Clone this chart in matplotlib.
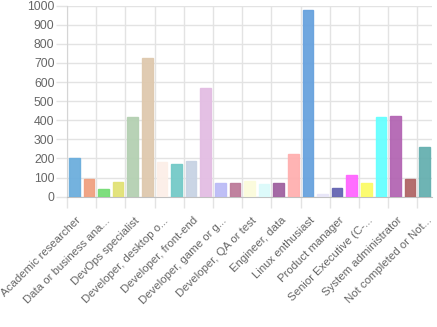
import matplotlib
matplotlib.use("Agg")
import matplotlib.pyplot as plt
from matplotlib.ticker import FixedLocator

# categories (only every other one gets a visible label on the axis)
categories = [
    "Academic researcher", "Blockchain", "Data or business analyst",
    "Data scientist or machine learning specialist", "DevOps specialist",
    "Developer, back-end", "Developer, desktop or enterprise applications",
    "Developer, embedded applications or devices", "Developer, front-end",
    "Developer, full-stack", "Developer, game or graphics", "Developer, mobile",
    "Developer, QA or test", "Educator", "Engineer, data", "Engineering manager",
    "Linux enthusiast", "Marketing or sales professional", "Product manager",
    "Scientist", "Senior Executive (C-Suite, VP, etc.)", "Student",
    "System administrator", "Other", "Not completed or Not applicable",
]
counts = [202, 91, 40, 78, 419, 724, 181, 170, 187, 568, 70, 72, 80, 67, 71,
          224, 979, 13, 46, 113, 71, 418, 421, 91, 259]
bar_colors = [
    "#6caedd", "#f0a080", "#77dd77", "#e2e276", "#b4d0b2", "#dfc9ae",
    "#fcefe8", "#74cac8", "#c8d3e4", "#e3bde3", "#bcbcf6", "#bd7b9a",
    "#fbfbdc", "#dcfafa", "#a062a0", "#ffb0b0", "#68a2de", "#e8e6f8",
    "#6565b2", "#ff66ff", "#fbfb68", "#66ffff", "#b366b3", "#b06666",
    "#66b0b0",
]


def short(name):
    return name if len(name) <= 21 else name[:20] + "..."


plt.rcParams["font.family"] = ["Liberation Sans", "DejaVu Sans"]

fig = plt.figure(figsize=(4.37, 3.27), dpi=100)
ax = fig.add_axes([0.1533, 0.3985, 0.9886 - 0.1533, 0.9826 - 0.3985])

x = range(len(categories))
ax.bar(x, counts, width=0.72, color=bar_colors, edgecolor=bar_colors,
       linewidth=1, alpha=0.95, zorder=3)

grid_c = "#e3e3e3"
ax.set_xlim(-0.5, len(categories) - 0.5)
ax.set_ylim(0, 1000)
ax.set_yticks(range(0, 1001, 100))

# labels every other category, nudged right like the original renderer
shown = list(range(0, len(categories), 2))
ax.set_xticks([i + 0.36 for i in shown])
ax.set_xticklabels([short(categories[i]) for i in shown], rotation=45,
                   ha="right", va="center", rotation_mode="anchor")
ax.xaxis.set_minor_locator(FixedLocator([i - 0.5 for i in shown]))

ax.tick_params(axis="x", which="major", length=0, pad=16,
               labelsize=8.2, labelcolor="#666666")
ax.tick_params(axis="x", which="minor", length=8, width=1, color=grid_c)
ax.tick_params(axis="y", length=8, width=1, color=grid_c,
               labelsize=8.8, labelcolor="#666666", pad=1)

ax.grid(axis="x", which="minor", color=grid_c, linewidth=1, zorder=0)
ax.grid(axis="y", which="major", color=grid_c, linewidth=1, zorder=0)

for side in ("top", "right"):
    ax.spines[side].set_visible(False)
ax.spines["left"].set_color("#d5d5d5")
ax.spines["bottom"].set_color("#c0c0c0")

fig.savefig("out.png", dpi=100)
